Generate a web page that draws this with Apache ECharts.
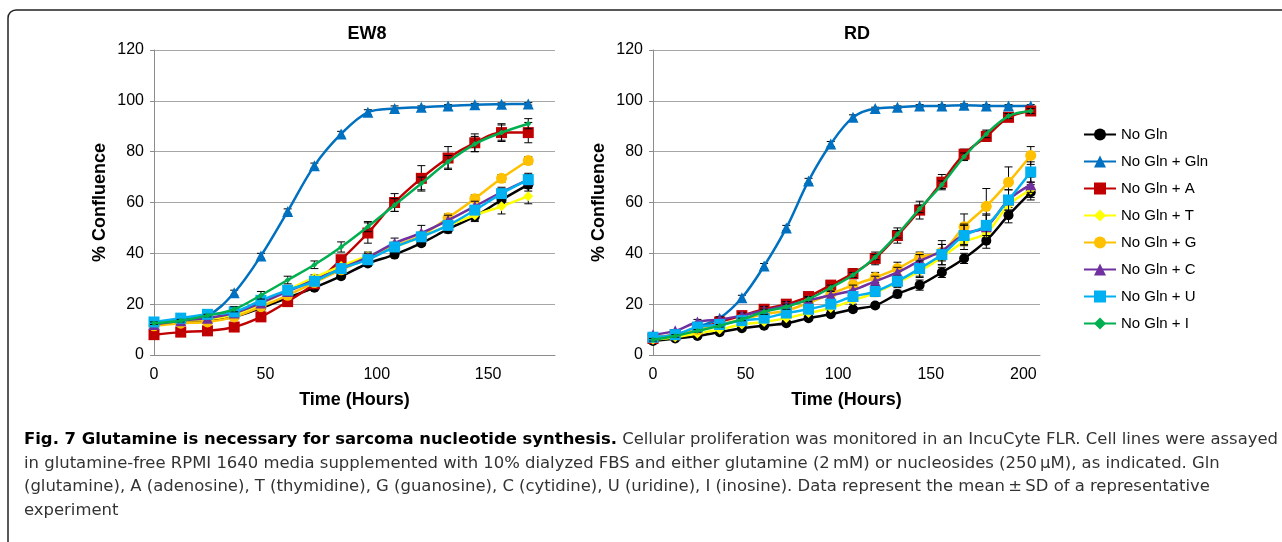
<!DOCTYPE html>
<html>
<head>
<meta charset="utf-8">
<script src="https://cdn.jsdelivr.net/npm/echarts@6/dist/echarts.min.js"></script>
<style>
html, body { margin: 0; padding: 0; background: #fff; }
#chart { width: 1282px; height: 542px; }
</style>
</head>
<body>
<div id="chart"></div>
<script>
// series names, colours, markers
var seriesNames = ['No Gln', 'No Gln + Gln', 'No Gln + A', 'No Gln + T', 'No Gln + G', 'No Gln + C', 'No Gln + U', 'No Gln + I'];
var seriesColors = ['#000000', '#0070c0', '#c00000', '#ffff00', '#ffc000', '#7030a0', '#00b0f0', '#00b050'];
var seriesSymbols = ['circle', 'triangle', 'rect', 'diamond', 'circle', 'triangle', 'rect', 'diamond'];
var symbolSizes = [10, 11, 11, 10, 11, 11, 11, 6];

// EW8, time 0..168 h
var ew8Time = [0, 12, 24, 36, 48, 60, 72, 84, 96, 108, 120, 132, 144, 156, 168];
var ew8NoGln = [12, 13, 13.5, 15, 18.5, 22.5, 26.5, 31, 36, 39.5, 44, 49.5, 54.5, 61, 67];
var ew8Gln = [12.5, 14, 15.5, 24.5, 39, 56.5, 74.5, 87, 95.5, 97, 97.5, 98, 98.5, 98.7, 98.8];
var ew8A = [8, 9, 9.5, 11, 15, 21, 28, 37.5, 48, 60, 69.5, 77.5, 83.5, 87.5, 87.5];
var ew8T = [12.5, 13.5, 14, 16, 20, 25.5, 30.5, 35, 39, 42.5, 46.5, 51, 55, 58.5, 62.5];
var ew8G = [11.5, 12.5, 13, 15, 19, 23.5, 28.5, 33.5, 38, 43, 47, 54, 61.5, 69.5, 76.5];
var ew8C = [12, 13.5, 14.5, 16.5, 20.5, 25, 29.5, 34, 38.5, 44, 48, 53, 58.5, 64, 69];
var ew8U = [13, 14.5, 16, 17, 21.5, 25.5, 29, 34, 37.5, 42.5, 46.5, 51, 57, 63.5, 69];
var ew8I = [12.5, 13.5, 15.5, 18, 23.5, 29.5, 35.5, 42.5, 50.5, 59, 67.5, 76, 83, 87.5, 91];

// EW8 SD
var ew8NoGlnSd = [0.5, 0.5, 0.5, 1, 1, 1, 1, 1, 1, 1, 1, 1.5, 1.5, 2, 2.5];
var ew8GlnSd = [0.5, 0.5, 0.5, 1, 1, 1, 1, 1, 1, 1, 0.5, 0.5, 0.5, 0.5, 0.5];
var ew8ASd = [0.5, 0.5, 0.5, 0.5, 1, 1, 1, 1.5, 4, 3.5, 5, 4.5, 3.5, 3.5, 4];
var ew8TSd = [0.5, 0.5, 0.5, 0.5, 1, 1, 1, 1, 1.5, 1.5, 1.5, 2, 2.5, 3, 3];
var ew8GSd = [0.5, 0.5, 0.5, 0.5, 1, 1, 1, 1, 1, 1, 1, 1.5, 1.5, 1.5, 1.5];
var ew8CSd = [0.5, 0.5, 0.5, 1, 1, 1, 1, 1, 1.5, 2, 3, 2, 2, 2, 2.5];
var ew8USd = [0.5, 0.5, 0.5, 0.5, 1, 1, 1, 1, 1, 1, 1, 1.5, 1.5, 2, 2];
var ew8ISd = [0.5, 0.5, 0.5, 1, 1.5, 1.5, 1.5, 2, 2, 2.5, 2.5, 2.5, 3, 3, 2];

// RD, time 0..204 h
var rdTime = [0, 12, 24, 36, 48, 60, 72, 84, 96, 108, 120, 132, 144, 156, 168, 180, 192, 204];
var rdNoGln = [5.5, 6.5, 7.5, 9, 10.5, 11.5, 12.5, 14.5, 16, 18, 19.5, 24, 27.5, 32.5, 38, 45, 55, 64];
var rdGln = [7, 8, 11, 14.5, 22.5, 35, 50, 68.5, 83, 93.5, 97, 97.5, 98, 98, 98.3, 98, 98, 98];
var rdA = [6.5, 8, 10, 13, 15.5, 18, 20, 23, 27.5, 32, 38, 47, 57, 68, 79, 86, 93.5, 96];
var rdT = [6, 7, 8.5, 10, 12, 13, 14.5, 16.5, 18.5, 21.5, 24.5, 28.5, 33, 38.5, 44.5, 48, 59, 65];
var rdG = [7, 8, 10, 12, 14, 16, 17.5, 20.5, 24, 27.5, 30.5, 34, 38.5, 40.5, 50.5, 58.5, 68, 78.5];
var rdC = [8, 9.5, 13, 14, 15.5, 17.5, 19.5, 21.5, 23.5, 25.5, 29, 32.5, 37, 41, 47.5, 50.5, 61, 67];
var rdU = [7, 8, 11, 12, 13.5, 14.5, 16.5, 18, 20, 23, 25, 29, 34, 39.5, 47, 51, 61, 72];
var rdI = [6, 7.5, 9.5, 11.5, 14, 17, 19, 22, 26.5, 31.5, 38.5, 47.5, 57.5, 67, 78, 87, 94, 96];

// RD SD
var rdNoGlnSd = [0.5, 0.5, 0.5, 0.5, 0.5, 0.5, 0.5, 0.5, 0.5, 1, 1, 1.5, 2, 2, 2, 3, 3, 3];
var rdGlnSd = [0.5, 0.5, 0.5, 0.5, 1, 1, 1, 1, 1, 1, 0.5, 0.5, 0.5, 0.5, 0.5, 0.5, 0.5, 0.5];
var rdASd = [0.5, 0.5, 1, 1, 1, 1, 1, 1.5, 1.5, 2, 2.5, 3, 3.5, 3, 2, 2, 1, 1];
var rdTSd = [0.5, 0.5, 0.5, 0.5, 0.5, 1, 1, 1, 1, 1.5, 1.5, 2, 2.5, 3, 3, 3, 3, 3];
var rdGSd = [0.5, 0.5, 0.5, 0.5, 0.5, 1, 1, 1, 1, 1.5, 2, 2.5, 2, 3, 5, 7, 6, 3.5];
var rdCSd = [0.5, 0.5, 1, 1, 1, 1.5, 1.5, 1, 1.5, 2, 2, 2, 2.5, 4, 4, 5, 4, 3];
var rdUSd = [0.5, 0.5, 0.5, 0.5, 1, 1, 1, 1, 1, 1.5, 2, 2, 3, 4, 4, 4, 4, 4];
var rdISd = [0.5, 0.5, 0.5, 0.5, 0.5, 1, 1, 1, 1, 1, 1, 1.5, 1.5, 1.5, 1.5, 1.5, 1, 1];

var yTicks = [0, 20, 40, 60, 80, 100, 120];
var xTicks = [0, 50, 100, 150, 200];

var captionBold = 'Fig. 7 Glutamine is necessary for sarcoma nucleotide synthesis.';
var captionLines = [
    ' Cellular proliferation was monitored in an IncuCyte FLR. Cell lines were assayed',
    'in glutamine-free RPMI 1640 media supplemented with 10% dialyzed FBS and either glutamine (2\u2009mM) or nucleosides (250\u2009\u03bcM), as indicated. Gln',
    '(glutamine), A (adenosine), T (thymidine), G (guanosine), C (cytidine), U (uridine), I (inosine). Data represent the mean\u2009\u00b1\u2009SD of a representative',
    'experiment'
];

var ew8Values = [ew8NoGln, ew8Gln, ew8A, ew8T, ew8G, ew8C, ew8U, ew8I];
var ew8Sds = [ew8NoGlnSd, ew8GlnSd, ew8ASd, ew8TSd, ew8GSd, ew8CSd, ew8USd, ew8ISd];
var rdValues = [rdNoGln, rdGln, rdA, rdT, rdG, rdC, rdU, rdI];
var rdSds = [rdNoGlnSd, rdGlnSd, rdASd, rdTSd, rdGSd, rdCSd, rdUSd, rdISd];

var FONT = 'Liberation Sans, Arial, sans-serif';
var CAPFONT = '"Liberation Sans Narrow", "DejaVu Sans Condensed", "Liberation Sans", sans-serif';

function errorRender(params, api) {
    var x = api.value(0), y = api.value(1), sd = api.value(2);
    var top = api.coord([x, y + sd]);
    var bot = api.coord([x, y - sd]);
    var cap = 4;
    var st = {stroke: '#000', lineWidth: 1};
    return {
        type: 'group',
        children: [
            {type: 'line', shape: {x1: top[0], y1: top[1], x2: bot[0], y2: bot[1]}, style: st},
            {type: 'line', shape: {x1: top[0] - cap, y1: top[1], x2: top[0] + cap, y2: top[1]}, style: st},
            {type: 'line', shape: {x1: bot[0] - cap, y1: bot[1], x2: bot[0] + cap, y2: bot[1]}, style: st}
        ]
    };
}

var series = [];
function addPanel(idx, time, values, sds) {
    for (var i = 0; i < seriesNames.length; i++) {
        var errData = time.map(function (t, k) { return [t, values[i][k], sds[i][k]]; });
        series.push({
            type: 'custom',
            name: 'err',
            xAxisIndex: idx,
            yAxisIndex: idx,
            renderItem: errorRender,
            data: errData,
            encode: {x: 0, y: 1},
            z: 3 + i,
            silent: true
        });
        series.push({
            type: 'line',
            name: seriesNames[i],
            xAxisIndex: idx,
            yAxisIndex: idx,
            data: time.map(function (t, k) { return [t, values[i][k]]; }),
            smooth: 0.35,
            symbol: seriesSymbols[i],
            symbolSize: symbolSizes[i],
            showAllSymbol: true,
            color: seriesColors[i],
            lineStyle: {width: 2.5, color: seriesColors[i]},
            itemStyle: {color: seriesColors[i]},
            z: 3 + i
        });
    }
}
addPanel(0, ew8Time, ew8Values, ew8Sds);
addPanel(1, rdTime, rdValues, rdSds);

function xAxis(idx, max) {
    return {
        type: 'value',
        gridIndex: idx,
        min: 0,
        max: max,
        interval: 50,
        name: 'Time (Hours)',
        nameLocation: 'middle',
        nameGap: 36,
        nameTextStyle: {fontFamily: FONT, fontSize: 18, fontWeight: 'bold', color: '#000'},
        axisLine: {show: true, lineStyle: {color: '#8c8c8c', width: 1}},
        axisTick: {show: false},
        axisLabel: {
            fontFamily: FONT, fontSize: 16, color: '#000', margin: 12,
            showMaxLabel: false,
            formatter: function (v) { return xTicks.indexOf(v) >= 0 ? String(v) : ''; }
        },
        splitLine: {show: false}
    };
}
function yAxis(idx) {
    return {
        type: 'value',
        gridIndex: idx,
        min: 0,
        max: 120,
        interval: 20,
        name: '% Confluence',
        nameLocation: 'middle',
        nameGap: 45,
        nameTextStyle: {fontFamily: FONT, fontSize: 18, fontWeight: 'bold', color: '#000'},
        axisLine: {show: true, lineStyle: {color: '#8c8c8c', width: 1}},
        axisTick: {show: true, length: 4, lineStyle: {color: '#8c8c8c'}},
        axisLabel: {
            fontFamily: FONT, fontSize: 16, color: '#000', margin: 10,
            formatter: function (v) { return yTicks.indexOf(v) >= 0 ? String(v) : ''; }
        },
        splitLine: {show: true, lineStyle: {color: '#a6a6a6', width: 1}}
    };
}

// caption scaling to fit the width of the text block
var ctx = document.createElement('canvas').getContext('2d');
ctx.font = 'bold 16px ' + CAPFONT;
var wBold = ctx.measureText(captionBold).width;
ctx.font = '16px ' + CAPFONT;
var wRest = ctx.measureText(captionLines[0]).width;
var capScale = (1278 - 24) / (wBold + wRest);

var captionEls = [{
    type: 'text',
    left: 24, top: 432,
    scaleX: capScale,
    style: {
        text: '{b|' + captionBold + '}{n|' + captionLines[0] + '}',
        rich: {
            b: {fontFamily: CAPFONT, fontSize: 16, fontWeight: 'bold', fill: '#000'},
            n: {fontFamily: CAPFONT, fontSize: 16, fill: '#333'}
        }
    }
}];
for (var c = 1; c < captionLines.length; c++) {
    captionEls.push({
        type: 'text',
        left: 24, top: 432 + c * 23.5,
        scaleX: capScale,
        style: {text: captionLines[c], fontFamily: CAPFONT, fontSize: 16, fill: '#333'}
    });
}

var option = {
    backgroundColor: '#ffffff',
    animation: false,
    title: [
        {text: 'EW8', left: 362, top: 20, textAlign: 'center',
         textStyle: {fontFamily: FONT, fontSize: 18, fontWeight: 'bold', color: '#000'}},
        {text: 'RD', left: 852, top: 20, textAlign: 'center',
         textStyle: {fontFamily: FONT, fontSize: 18, fontWeight: 'bold', color: '#000'}}
    ],
    legend: {
        data: seriesNames,
        orient: 'vertical',
        left: 1078,
        top: 122,
        itemGap: 12,
        itemWidth: 32,
        itemHeight: 15,
        textStyle: {fontFamily: FONT, fontSize: 15, color: '#000'}
    },
    grid: [
        {left: 154, top: 50, width: 401, height: 305},
        {left: 653, top: 50, width: 387, height: 305}
    ],
    xAxis: [xAxis(0, 180), xAxis(1, 209)],
    yAxis: [yAxis(0), yAxis(1)],
    series: series,
    graphic: [{
        type: 'rect',
        shape: {x: 8, y: 10, width: 1300, height: 560, r: 8},
        style: {fill: 'none', stroke: '#222', lineWidth: 1.5},
        silent: true
    }].concat(captionEls)
};

var myChart = echarts.init(document.getElementById('chart'));
myChart.setOption(option);
</script>
</body>
</html>
